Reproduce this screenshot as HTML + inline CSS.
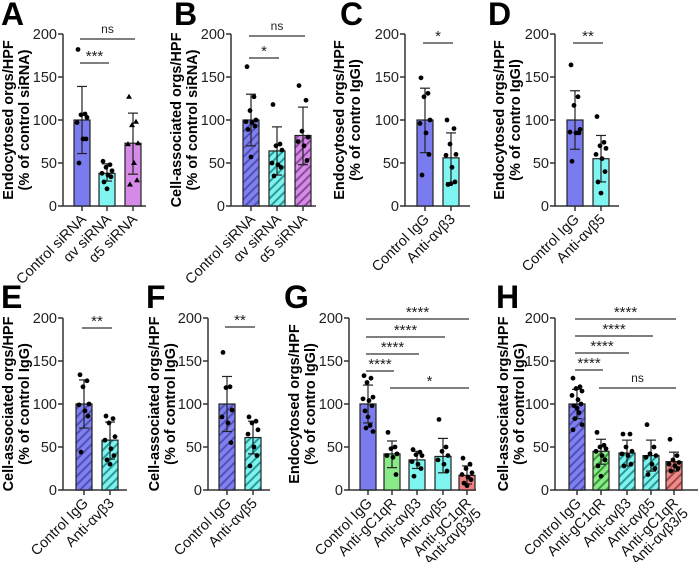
<!DOCTYPE html>
<html><head><meta charset="utf-8"><style>
html,body{margin:0;padding:0;background:#fff;width:700px;height:562px;overflow:hidden}
svg{display:block;font-family:"Liberation Sans",sans-serif}
</style></head><body>
<svg id="fig" width="700" height="562" viewBox="0 0 700 562">
<defs>
<pattern id="hB" patternUnits="userSpaceOnUse" width="6" height="6" patternTransform="rotate(45)"><rect width="6" height="6" fill="#8080ee"/><rect width="2" height="6" fill="#5050b8"/></pattern>
<pattern id="hC" patternUnits="userSpaceOnUse" width="6" height="6" patternTransform="rotate(45)"><rect width="6" height="6" fill="#7ff2ee"/><rect width="2" height="6" fill="#2a9a98"/></pattern>
<pattern id="hV" patternUnits="userSpaceOnUse" width="6" height="6" patternTransform="rotate(45)"><rect width="6" height="6" fill="#d58ae8"/><rect width="2" height="6" fill="#8a4a9a"/></pattern>
<pattern id="hG" patternUnits="userSpaceOnUse" width="6" height="6" patternTransform="rotate(45)"><rect width="6" height="6" fill="#8aea8a"/><rect width="2" height="6" fill="#3a9a3a"/></pattern>
<pattern id="hR" patternUnits="userSpaceOnUse" width="6" height="6" patternTransform="rotate(45)"><rect width="6" height="6" fill="#f08a8a"/><rect width="2" height="6" fill="#a04a4a"/></pattern>
</defs>
</svg>
<script>
// ---- data ----
const catsA=["Control siRNA","αv siRNA","α5 siRNA"];
const meanA=[100,38,73];const hiA=[139,49,108];const loA=[61,29,37];
const ptsA=[[182,107,106,103,97,78,78,50],[52,48,45,41,38,36,34,28,20],[127,98,94,73,72,50,30,25]];
const catsB=["Control siRNA","αv siRNA","α5 siRNA"];
const meanB=[100,64,82];const hiB=[130,92,115];const loB=[70,36,48];
const ptsB=[[162,127,111,100,98,97,93,89,57],[118,72,70,65,50,48,45,35],[140,123,87,80,75,70,53]];
const catsC=["Control IgG","Anti-αvβ3"];
const meanC=[100,56];const hiC=[137,85];const loC=[62,27];
const ptsC=[[149,131,127,100,96,85,60,36],[100,90,72,60,59,45,28,25,26]];
const catsD=["Control IgG","Anti-αvβ5"];
const meanD=[100,55];const hiD=[134,82];const loD=[66,28];
const ptsD=[[164,127,117,89,86,85,85,52],[104,74,70,67,60,55,40,28,15]];
const catsE=["Control IgG","Anti-αvβ3"];
const meanE=[100,58];const hiE=[128,79];const loE=[72,36];
const ptsE=[[134,127,120,100,99,92,86,44],[86,83,78,62,58,48,40,35,30]];
const catsF=["Control IgG","Anti-αvβ5"];
const meanF=[100,61];const hiF=[132,80];const loF=[68,42];
const ptsF=[[160,120,119,93,85,78,55],[85,80,78,70,65,50,40,28]];
const catsG=["Control IgG","Anti-gC1qR","Anti-αvβ3","Anti-αvβ5","Anti-gC1qR|+Anti-αvβ3/5"];
const meanG=[100,42,35,39,17];const hiG=[122,57,45,60,28];const loG=[78,26,25,20,7];
const ptsG=[[133,130,125,108,106,104,98,92,85,75,72,68],[67,50,48,42,40,38,18],[47,44,41,40,33,30,25,16],[82,50,45,40,35,30,22],[37,30,25,20,18,15,12,8,5]];
const catsH=["Control IgG","Anti-gC1qR","Anti-αvβ3","Anti-αvβ5","Anti-gC1qR|+Anti-αvβ3/5"];
const meanH=[100,45,43,40,33];const hiH=[117,59,58,58,44];const loH=[83,30,28,22,22];
const ptsH=[[130,120,118,115,110,105,100,98,95,90,83,76,70],[67,52,50,48,45,40,35,28,16],[65,65,50,45,42,40,30,28],[76,50,42,40,38,30,25,18],[59,40,35,32,30,28,25,22]];
const ticks=[0,50,100,150,200];

const svg=document.getElementById('fig');
const NS='http://www.w3.org/2000/svg';
function mk(tag,attrs,parent){const e=document.createElementNS(NS,tag);for(const k in attrs)e.setAttribute(k,attrs[k]);(parent||svg).appendChild(e);return e;}
const jit=[-4,3,-1,5,-5,1,4,-3,0,2,-2,5,-4];

function panel(o){
  const g=mk('g',{});
  
  
  const y=v=>o.y0-(v/200)*(o.y0-o.y200);
  const L=mk('text',{x:o.lx,y:o.ly,'font-size':32,'font-weight':'bold',fill:'#000'},g);L.textContent=o.letter;
  
  
  const cy=(o.y0+o.y200)/2;
  const t=mk('text',{transform:`translate(${o.tx},${cy}) rotate(-90)`,'text-anchor':'middle','font-size':14.5,'font-weight':'bold',fill:'#000'},g);
  
  
  const s1=mk('tspan',{x:0,y:0},t);s1.textContent=o.t1;
  const s2=mk('tspan',{x:0,y:16},t);s2.textContent=o.t2;
  const ax=mk('path',{d:`M${o.ax},${y(200)}V${o.y0}H${o.axEnd}`,stroke:'#333','stroke-width':1.5,fill:'none'},g);
  
  
  ticks.forEach(v=>{
    mk('line',{x1:o.ax-5,x2:o.ax,y1:y(v),y2:y(v),stroke:'#333','stroke-width':1.5},g);
    const tl=mk('text',{x:o.ax-6,y:y(v)+5,'text-anchor':'end','font-size':14.5,fill:'#222'},g);tl.textContent=v;
    
    
  });
  const bw=o.bw||16;
  o.cats.forEach((c,i)=>{
    const cx=o.cx[i];
    const bar=mk('rect',{x:cx-bw/2,y:y(o.mean[i]),width:bw,height:o.y0-y(o.mean[i]),fill:o.fills[i],stroke:'#222','stroke-width':1.2},g);
    
    
    mk('line',{x1:cx,x2:cx,y1:y(o.hi[i]),y2:y(o.lo[i]),stroke:'#222','stroke-width':1.2},g);
    mk('line',{x1:cx-5,x2:cx+5,y1:y(o.hi[i]),y2:y(o.hi[i]),stroke:'#222','stroke-width':1.2},g);
    mk('line',{x1:cx-5,x2:cx+5,y1:y(o.lo[i]),y2:y(o.lo[i]),stroke:'#222','stroke-width':1.2},g);
    mk('line',{x1:cx,x2:cx,y1:o.y0,y2:o.y0+5,stroke:'#333','stroke-width':1.5},g);
    o.pts[i].forEach((v,j)=>{
      const px=cx+jit[j%jit.length],py=y(v);
      let d;
      if(o.tri&&o.tri[i]) d=mk('path',{d:`M${px},${py-3}L${px+3},${py+2}L${px-3},${py+2}Z`,fill:'#000'},g);
      else d=mk('circle',{cx:px,cy:py,r:2.4,fill:'#000'},g);
      
      
    });
    const parts=c.split('|');
    parts.forEach((p,k)=>{
      const xl=mk('text',{transform:`translate(${cx+5+k*10},${o.y0+14+k*10}) rotate(-45)`,'text-anchor':'end','font-size':14.5,fill:'#111'},g);
      xl.textContent=p;
      
      
    });
  });
  (o.br||[]).forEach(b=>{
    const ln=mk('line',{x1:o.cx[b[0]]-2,x2:o.cx[b[1]]+2,y1:b[2],y2:b[2],stroke:'#333','stroke-width':1.3},g);
    
    
    const st=b[3]==='ns';
    const tx=mk('text',{x:(o.cx[b[0]]+o.cx[b[1]])/2,y:b[2]-(st?6:2),'text-anchor':'middle','font-size':st?12:15,fill:'#222'},g);
    tx.textContent=b[3];
    
    
  });
}
const P='#7b7bf0',C='#7ff5f2',V='#d58ae8',Gr='#8aea8a',R='#f08080';
panel({letter:'A',lx:1,ly:25,tx:13,t1:'Endocytosed orgs/HPF',t2:'(% of control siRNA)',ax:63,axEnd:146,y0:206,y200:34,cx:[82,107,133],cats:catsA,mean:meanA,hi:hiA,lo:loA,pts:ptsA,fills:[P,C,V],tri:[0,0,1],br:[[0,2,39,'ns'],[0,1,63,'***']]});
panel({letter:'B',lx:174,ly:25,tx:181,t1:'Cell-associated orgs/HPF',t2:'(% of control siRNA)',ax:231,axEnd:316,y0:206,y200:34,cx:[251,277,303],cats:catsB,mean:meanB,hi:hiB,lo:loB,pts:ptsB,fills:['url(#hB)','url(#hC)','url(#hV)'],br:[[0,2,36,'ns'],[0,1,58,'*']]});
panel({letter:'C',lx:340,ly:25,tx:344,t1:'Endocytosed orgs/HPF',t2:'(% of contro IgGl)',ax:405,axEnd:470,y0:206,y200:34,cx:[425,451],cats:catsC,mean:meanC,hi:hiC,lo:loC,pts:ptsC,fills:[P,C],br:[[0,1,43,'*']]});
panel({letter:'D',lx:488,ly:25,tx:504,t1:'Endocytosed orgs/HPF',t2:'(% of contro IgGl)',ax:555,axEnd:619,y0:206,y200:34,cx:[575,601],cats:catsD,mean:meanD,hi:hiD,lo:loD,pts:ptsD,fills:[P,C],br:[[0,1,43,'**']]});
panel({letter:'E',lx:1,ly:308,tx:13,t1:'Cell-associated orgs/HPF',t2:'(% of control IgG)',ax:63,axEnd:127,y0:490,y200:318,cx:[84,110],cats:catsE,mean:meanE,hi:hiE,lo:loE,pts:ptsE,fills:['url(#hB)','url(#hC)'],br:[[0,1,328,'**']]});
panel({letter:'F',lx:146,ly:308,tx:159,t1:'Cell-associated orgs/HPF',t2:'(% of control IgG)',ax:208,axEnd:270,y0:490,y200:318,cx:[227,253],cats:catsF,mean:meanF,hi:hiF,lo:loF,pts:ptsF,fills:['url(#hB)','url(#hC)'],br:[[0,1,327,'**']]});
panel({letter:'G',lx:284,ly:308,tx:299,t1:'Endocytosed orgs/HPF',t2:'(% of contro IgGl)',ax:349,axEnd:476,y0:490,y200:318,cx:[368,392,417,443,467],cats:catsG,mean:meanG,hi:hiG,lo:loG,pts:ptsG,fills:[P,Gr,C,C,R],br:[[0,4,319,'****'],[0,3,337,'****'],[0,2,354,'****'],[0,1,371,'****'],[1,4,388,'*']]});
panel({letter:'H',lx:496,ly:308,tx:508,t1:'Cell-associated orgs/HPF',t2:'(% of control IgG)',ax:555,axEnd:698,y0:490,y200:318,cx:[577,601,627,651,674],cats:catsH,mean:meanH,hi:hiH,lo:loH,pts:ptsH,fills:['url(#hB)','url(#hG)','url(#hC)','url(#hC)','url(#hR)'],br:[[0,4,319,'****'],[0,3,336,'****'],[0,2,353,'****'],[0,1,370,'****'],[1,4,388,'ns']]});
</script>
</body></html>
